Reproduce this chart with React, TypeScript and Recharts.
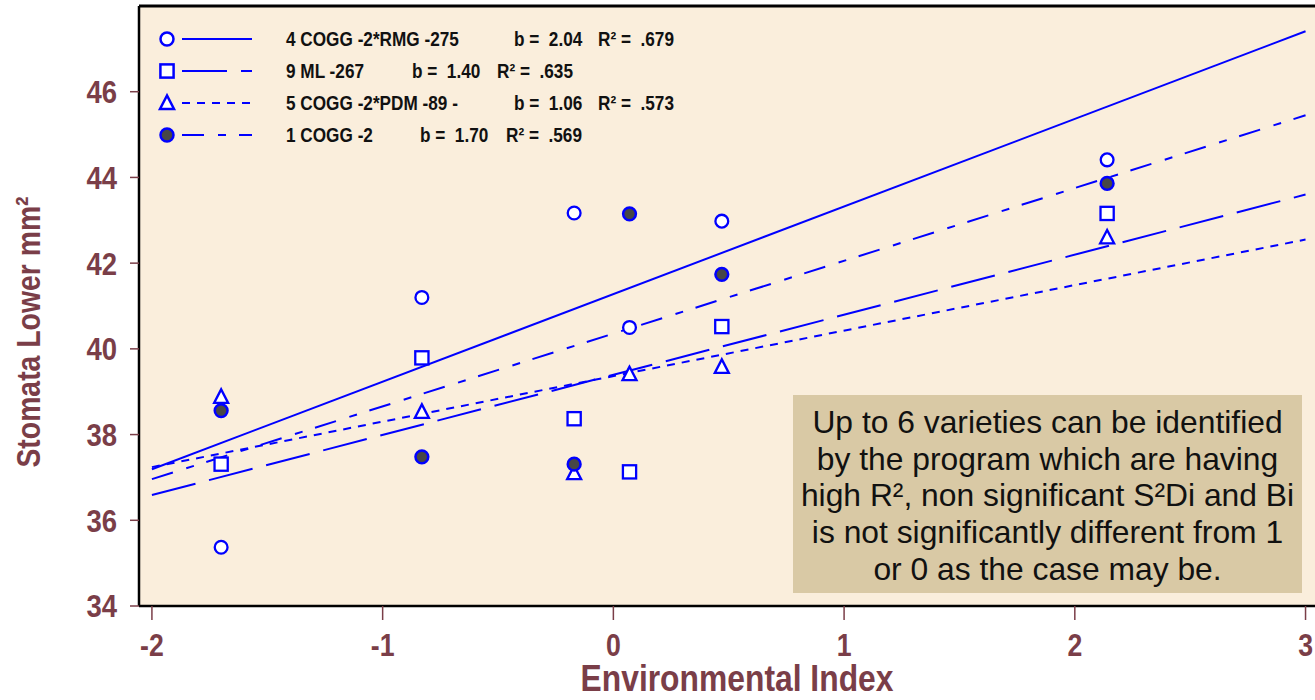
import React from 'react';
import { ComposedChart, Scatter, Line, XAxis, YAxis, CartesianGrid, ReferenceLine } from 'recharts';

// ---- data ----
const envIndex = [-1.70, -0.83, -0.17, 0.07, 0.47, 2.14];
const cogg2Rmg275 = [35.37, 41.20, 43.17, 40.50, 42.98, 44.41];
const ml267 = [37.31, 39.79, 38.37, 37.13, 40.52, 43.16];
const cogg2Pdm89 = [38.88, 38.53, 37.10, 39.41, 39.58, 42.60];
const cogg2 = [38.56, 37.48, 37.31, 43.15, 41.74, 43.86];

const fitX = [-2, 3];
const fitCogg2Rmg275 = [37.19, 47.41];
const fitMl267 = [36.59, 43.60];
const fitCogg2Pdm89 = [37.24, 42.55];
const fitCogg2 = [36.96, 45.45];

const seriesNames = ['4 COGG -2*RMG -275', '9 ML -267', '5 COGG -2*PDM -89 -', '1 COGG -2'];
const bValues = ['2.04', '1.40', '1.06', '1.70'];
const r2Values = ['.679', '.635', '.573', '.569'];

const xTicks = [-2, -1, 0, 1, 2, 3];
const yTicks = [34, 36, 38, 40, 42, 44, 46];

const noteLines = [
  'Up to 6 varieties can be identified',
  'by the program which are having',
  'high R², non significant S²Di and Bi',
  'is not significantly different from 1',
  'or 0 as the case may be.',
];

// ---- styles ----
const BLUE = '#0000ff';
const MAROON = '#7a3e48';
const PLOT_BG = '#faeedc';
const FONT = '"Liberation Sans", Arial, sans-serif';
const SQUEEZE = 0.86;

const pts = (vals: number[]) => envIndex.map((x, i) => ({ x, y: vals[i] }));
const fit = (vals: number[]) => fitX.map((x, i) => ({ x, y: vals[i] }));

const dashes = ['', '45 14', '8 7', '22 14 8 13'];

const OpenCircle = (p: any) => (
  <circle cx={p.cx} cy={p.cy} r={p.r || 6.4} fill="#ffffff" stroke={BLUE} strokeWidth={p.sw || 2.3} />
);
const OpenSquare = (p: any) => (
  <rect x={p.cx - 6.6} y={p.cy - 6.6} width={13.2} height={13.2} fill="#ffffff" stroke={BLUE} strokeWidth={p.sw || 2.3} />
);
const OpenTriangle = (p: any) => (
  <polygon
    points={`${p.cx},${p.cy - 7.5} ${p.cx - 7},${p.cy + 6} ${p.cx + 7},${p.cy + 6}`}
    fill="#ffffff"
    stroke={BLUE}
    strokeWidth={p.sw || 2.3}
  />
);
const FilledCircle = (p: any) => (
  <circle cx={p.cx} cy={p.cy} r={p.r || 6.4} fill="#474747" stroke={BLUE} strokeWidth={2.5} />
);

const markers = [OpenCircle, OpenSquare, OpenTriangle, FilledCircle];

// condensed text helper
const CondText = ({ x, y, anchor = 'start', size, fill, weight = 700, children, rotate = 0 }: any) => (
  <text
    transform={`translate(${x} ${y}) rotate(${rotate}) scale(${SQUEEZE} 1)`}
    x={0}
    y={0}
    textAnchor={anchor}
    fontSize={size}
    fontWeight={weight}
    fontFamily={FONT}
    fill={fill}
    style={{ whiteSpace: 'pre' }}
  >
    {children}
  </text>
);

const XTick = (props: any) => (
  <CondText x={props.x} y={props.y + 31 * 0.71} anchor="middle" size={31} fill={MAROON}>
    {String(props.payload.value)}
  </CondText>
);
const YTick = (props: any) => (
  <CondText x={props.x} y={props.y + 32 * 0.355} anchor="end" size={32} fill={MAROON}>
    {String(props.payload.value)}
  </CondText>
);

const legendRowsY = [39, 71, 103, 135];
const legendBX = [514, 412, 514, 420];
const legendRX = [598, 497, 598, 506];

export default function App() {
  return (
    <div style={{ position: 'absolute', left: 0, top: 0, width: 1315, height: 700, background: '#ffffff' }}>
      <ComposedChart
        width={1315}
        height={700}
        margin={{ top: 6, right: 0, bottom: 0, left: 79 }}
      >
        <CartesianGrid horizontal={false} vertical={false} fill={PLOT_BG} />
        <XAxis
          type="number"
          dataKey="x"
          domain={[-2.056, 3.041]}
          ticks={xTicks}
          allowDataOverflow
          height={94}
          axisLine={{ stroke: '#000000', strokeWidth: 2.5 }}
          tickLine={{ stroke: MAROON, strokeWidth: 1.5 }}
          tickSize={14}
          tickMargin={14}
          tick={XTick}
          label={() => (
            <CondText x={737} y={691} anchor="middle" size={37} fill={MAROON}>
              Environmental Index
            </CondText>
          )}
        />
        <YAxis
          type="number"
          domain={[34, 48]}
          ticks={yTicks}
          allowDataOverflow
          width={60}
          axisLine={{ stroke: '#000000', strokeWidth: 2.5 }}
          tickLine={{ stroke: MAROON, strokeWidth: 1.5 }}
          tickSize={9}
          tickMargin={13}
          tick={YTick}
          label={() => (
            <CondText x={40} y={332} rotate={-90} anchor="middle" size={33} fill={MAROON}>
              Stomata Lower mm²
            </CondText>
          )}
        />
        <ReferenceLine y={48} stroke="#000000" strokeWidth={3} ifOverflow="extendDomain" />

        <Scatter data={pts(cogg2Rmg275)} dataKey="y" shape={OpenCircle} isAnimationActive={false} />
        <Scatter data={pts(ml267)} dataKey="y" shape={OpenSquare} isAnimationActive={false} />
        <Scatter data={pts(cogg2Pdm89)} dataKey="y" shape={OpenTriangle} isAnimationActive={false} />
        <Scatter data={pts(cogg2)} dataKey="y" shape={FilledCircle} isAnimationActive={false} />

        <Line data={fit(fitCogg2Rmg275)} dataKey="y" type="linear" stroke={BLUE} strokeWidth={2} dot={false} activeDot={false} isAnimationActive={false} />
        <Line data={fit(fitMl267)} dataKey="y" type="linear" stroke={BLUE} strokeWidth={2} strokeDasharray={dashes[1]} dot={false} activeDot={false} isAnimationActive={false} />
        <Line data={fit(fitCogg2Pdm89)} dataKey="y" type="linear" stroke={BLUE} strokeWidth={2} strokeDasharray={dashes[2]} dot={false} activeDot={false} isAnimationActive={false} />
        <Line data={fit(fitCogg2)} dataKey="y" type="linear" stroke={BLUE} strokeWidth={2} strokeDasharray={dashes[3]} dot={false} activeDot={false} isAnimationActive={false} />
      </ComposedChart>

      {/* legend */}
      <svg
        width={1315}
        height={700}
        style={{ position: 'absolute', left: 0, top: 0, pointerEvents: 'none' }}
      >
        {seriesNames.map((name, i) => {
          const Marker = markers[i];
          const y = legendRowsY[i];
          return (
            <g key={name}>
              <Marker cx={167} cy={y} r={6.5} sw={2.5} />
              <line x1={182} y1={y} x2={252} y2={y} stroke={BLUE} strokeWidth={2.2} strokeDasharray={dashes[i] || undefined} />
              <CondText x={286} y={y + 7} size={20} fill="#111111">{name}</CondText>
              <CondText x={legendBX[i]} y={y + 7} size={20} fill="#111111">{`b =  ${bValues[i]}`}</CondText>
              <CondText x={legendRX[i]} y={y + 7} size={20} fill="#111111">{`R² =  ${r2Values[i]}`}</CondText>
            </g>
          );
        })}
      </svg>

      {/* note box */}
      <div
        style={{
          position: 'absolute',
          left: 793,
          top: 395,
          width: 509,
          height: 198,
          background: '#d9c9a5',
          boxSizing: 'border-box',
          paddingTop: 9,
          textAlign: 'center',
          fontFamily: FONT,
          fontSize: 31.8,
          lineHeight: '36.7px',
          color: '#111111',
          whiteSpace: 'nowrap',
        }}
      >
        {noteLines.map((l) => (
          <div key={l}>{l}</div>
        ))}
      </div>
    </div>
  );
}
